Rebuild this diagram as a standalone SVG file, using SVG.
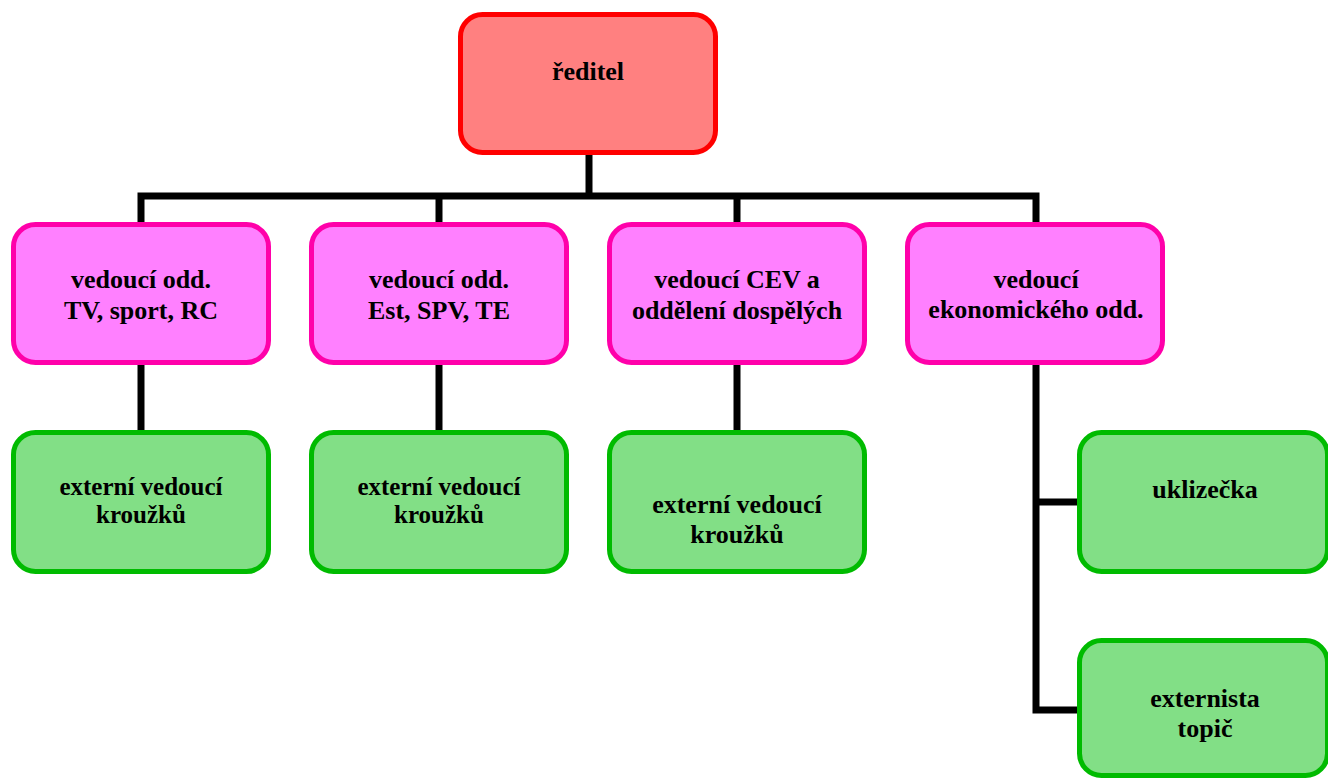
<svg xmlns="http://www.w3.org/2000/svg" width="1328" height="779" viewBox="0 0 1328 779">
<style>
.box{stroke-width:5}
.root{fill:#FF8080;stroke:#FF0000}
.pink{fill:#FF80FF;stroke:#FF00AA}
.green{fill:#82DF86;stroke:#00BB00}
text{font-family:"Liberation Serif","Times New Roman",serif;font-weight:bold;fill:#000;text-anchor:middle}
.t26{font-size:26px}
.t25{font-size:25px}
#connectors path{fill:none;stroke:#000;stroke-width:7;stroke-linejoin:miter;stroke-linecap:butt}
</style>
<rect width="1328" height="779" fill="#fff"/>
<g id="connectors">
<path d="M589,155 V196"/>
<path d="M141,224 V196 H1036 V224"/>
<path d="M439,196 V224"/>
<path d="M737,196 V224"/>
<path d="M141,365 V432"/>
<path d="M439,365 V432"/>
<path d="M737,365 V432"/>
<path d="M1079,710 H1036 V365"/>
<path d="M1036,502 H1079"/>
</g>
<g id="reditel">
<rect class="box root" x="460.5" y="14.5" width="255" height="138" rx="22"/>
<text class="t26" x="588" y="80">ředitel</text>
</g>
<g id="vedouci-tv">
<rect class="box pink" x="13.5" y="224.5" width="255" height="138" rx="22"/>
<text class="t26" x="141" y="288">vedoucí odd.</text>
<text class="t26" x="141" y="319">TV, sport, RC</text>
</g>
<g id="vedouci-est">
<rect class="box pink" x="311.5" y="224.5" width="255" height="138" rx="22"/>
<text class="t26" x="439" y="288">vedoucí odd.</text>
<text class="t26" x="439" y="319">Est, SPV, TE</text>
</g>
<g id="vedouci-cev">
<rect class="box pink" x="609.5" y="224.5" width="255" height="138" rx="22"/>
<text class="t26" x="737" y="288">vedoucí CEV a</text>
<text class="t26" x="737" y="319">oddělení dospělých</text>
</g>
<g id="vedouci-ekon">
<rect class="box pink" x="907.5" y="224.5" width="255" height="138" rx="22"/>
<text class="t26" x="1036" y="288">vedoucí</text>
<text class="t26" x="1036" y="318">ekonomického odd.</text>
</g>
<g id="externi-1">
<rect class="box green" x="13.5" y="432.5" width="255" height="139" rx="22"/>
<text class="t25" x="141" y="495">externí vedoucí</text>
<text class="t25" x="141" y="523">kroužků</text>
</g>
<g id="externi-2">
<rect class="box green" x="311.5" y="432.5" width="255" height="139" rx="22"/>
<text class="t25" x="439" y="495">externí vedoucí</text>
<text class="t25" x="439" y="523">kroužků</text>
</g>
<g id="externi-3">
<rect class="box green" x="609.5" y="432.5" width="255" height="139" rx="22"/>
<text class="t26" x="737" y="513">externí vedoucí</text>
<text class="t26" x="737" y="543">kroužků</text>
</g>
<g id="uklizecka">
<rect class="box green" x="1079.5" y="432.5" width="248" height="139" rx="22"/>
<text class="t26" x="1205" y="498">uklizečka</text>
</g>
<g id="externista-topic">
<rect class="box green" x="1079.5" y="640.5" width="248" height="135" rx="22"/>
<text class="t26" x="1205" y="707">externista</text>
<text class="t26" x="1205" y="737">topič</text>
</g>
</svg>
